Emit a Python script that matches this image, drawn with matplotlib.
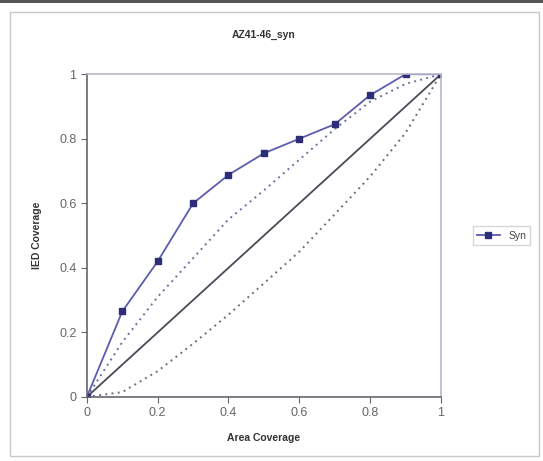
import matplotlib.pyplot as plt
from matplotlib.patches import Rectangle

plt.rcParams['font.family'] = ['Liberation Sans', 'DejaVu Sans']

area = [0, 0.1, 0.2, 0.3, 0.4, 0.5, 0.6, 0.7, 0.8, 0.9, 1.0]
syn = [0, 0.265, 0.42, 0.60, 0.688, 0.755, 0.80, 0.845, 0.935, 1.0, 1.0]
upper = [0, 0.17, 0.31, 0.43, 0.55, 0.64, 0.735, 0.83, 0.915, 0.97, 1.0]
lower = [0, 0.015, 0.08, 0.165, 0.255, 0.352, 0.45, 0.566, 0.683, 0.818, 1.0]
diag = [0, 1]
ticks = [0, 0.2, 0.4, 0.6, 0.8, 1]
tick_labels = ['0', '0.2', '0.4', '0.6', '0.8', '1']

fig = plt.figure(figsize=(5.43, 4.61), dpi=100)
fig.patches.append(Rectangle((0.018, 0.01), 0.975, 0.965, transform=fig.transFigure,
                             fill=False, edgecolor='#c8c8cc', lw=1))
fig.patches.append(Rectangle((0, 0.993), 1, 0.007, transform=fig.transFigure,
                             color='#555555', lw=0))

ax = fig.add_axes([0.160, 0.139, 0.652, 0.700])
ax.plot(diag, diag, color='#4a4a58', lw=1.3)
ax.plot(area, upper, color='#6a70a0', lw=1.4, ls=(0, (1, 2.2)))
ax.plot(area, lower, color='#6e6e7a', lw=1.4, ls=(0, (1, 2.2)))
ax.plot(area, syn, color='#5c5cae', lw=1.3, marker='s', ms=4.5,
        mfc='#2e2e78', mec='#2e2e78', label='Syn')

ax.set_xlim(0, 1)
ax.set_ylim(0, 1)
ax.set_xticks(ticks)
ax.set_xticklabels(tick_labels)
ax.set_yticks(ticks)
ax.set_yticklabels(tick_labels)
ax.tick_params(colors='#666666', labelsize=9, length=4, width=0.8)
for s in ['left', 'bottom']:
    ax.spines[s].set_color('#666670')
    ax.spines[s].set_linewidth(1.2)
for s in ['top', 'right']:
    ax.spines[s].set_color('#b8b8c8')
    ax.spines[s].set_linewidth(1.2)

ax.set_title('AZ41-46_syn', fontsize=7.5, fontweight='bold', color='#333333', pad=26)
ax.set_xlabel('Area Coverage', fontsize=7.5, fontweight='bold', color='#333333', labelpad=10)
ax.set_ylabel('IED Coverage', fontsize=7.5, fontweight='bold', color='#333333', labelpad=12)

ax.legend(loc='center left', bbox_to_anchor=(1.075, 0.5), fontsize=7.5, frameon=True,
          fancybox=False, edgecolor='#cccccc', handlelength=2.2, borderpad=0.4,
          labelcolor='#444444')

fig.savefig('out.png', dpi=100)
